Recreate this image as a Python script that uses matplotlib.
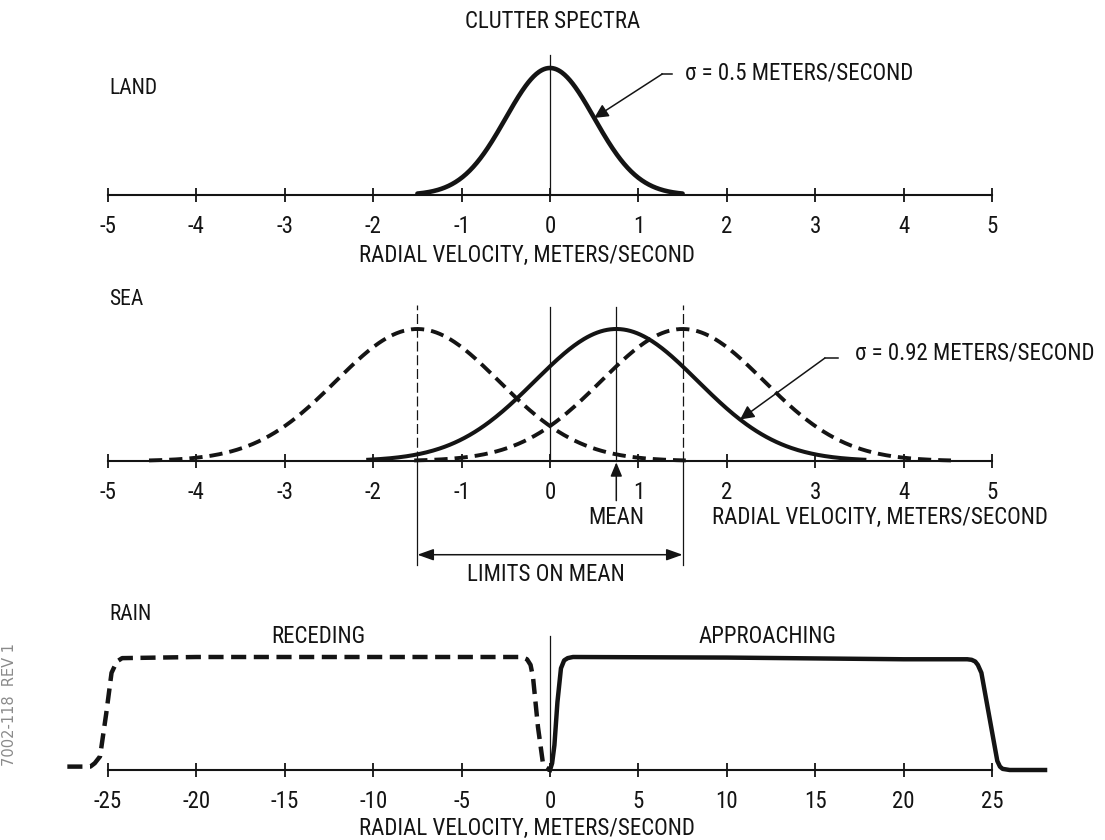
import numpy as np
import matplotlib
matplotlib.use("Agg")
import matplotlib.pyplot as plt
from matplotlib import font_manager

# ---- data -------------------------------------------------------------
LAND_TICKS = [-5, -4, -3, -2, -1, 0, 1, 2, 3, 4, 5]
LAND_TICK_LABELS = ["-5", "-4", "-3", "-2", "-1", "0", "1", "2", "3", "4", "5"]
LAND_MEAN = 0.0
LAND_SIGMA = 0.5

SEA_TICKS = [-5, -4, -3, -2, -1, 0, 1, 2, 3, 4, 5]
SEA_TICK_LABELS = ["-5", "-4", "-3", "-2", "-1", "0", "1", "2", "3", "4", "5"]
SEA_MEAN = 0.75
SEA_SIGMA = 0.92
SEA_LIMITS = [-1.5, 1.5]

RAIN_TICKS = [-25, -20, -15, -10, -5, 0, 5, 10, 15, 20, 25]
RAIN_TICK_LABELS = ["-25", "-20", "-15", "-10", "-5", "0", "5", "10", "15", "20", "25"]
RECEDING_V = [-27.3, -26.0, -25.75, -25.45, -25.1, -24.8, -24.5, -24.2, -20.0,
              -10.0, -1.6, -1.3, -1.1, -0.96, -0.68, -0.4, -0.2, 0.0]
RECEDING_P = [0.03, 0.03, 0.06, 0.12, 0.50, 0.86, 0.96, 0.99, 1.0,
              1.0, 1.0, 0.98, 0.93, 0.82, 0.38, 0.06, 0.02, 0.0]
APPROACHING_V = [0.0, 0.12, 0.25, 0.42, 0.62, 0.8, 1.0, 1.3, 10.0, 20.0,
                 23.6, 23.85, 24.05, 24.2, 24.4, 24.85, 25.3, 25.45, 25.6,
                 26.0, 28.0]
APPROACHING_P = [0.0, 0.06, 0.22, 0.60, 0.90, 0.97, 0.99, 1.0, 0.995, 0.98,
                 0.98, 0.975, 0.96, 0.93, 0.86, 0.47, 0.08, 0.03, 0.01,
                 0.0, 0.0]

# ---- style ------------------------------------------------------------
def pick_font():
    entries = font_manager.fontManager.ttflist
    names = {f.name for f in entries}
    for name in ("Liberation Sans Narrow", "Roboto Condensed",
                 "Open Sans Condensed", "DejaVu Sans Condensed"):
        if name in names:
            return name, "normal", 16.5
    if any(f.name == "DejaVu Sans" and f.stretch in ("condensed", "semi-condensed")
           for f in entries):
        return "DejaVu Sans", "condensed", 16.0
    return "DejaVu Sans", "normal", 14.5


FONT_NAME, FONT_STRETCH, FS = pick_font()
plt.rcParams["font.family"] = [FONT_NAME, "DejaVu Sans"]
plt.rcParams["font.stretch"] = FONT_STRETCH

INK = "#141414"
W, H = 1105, 840
fig = plt.figure(figsize=(W / 100, H / 100), dpi=100)
fig.patch.set_facecolor("white")


def panel(top, bot, x_zero, x_unit, y_zero, y_unit, ticks, labels, bounds):
    ax = fig.add_axes([0, 1 - bot / H, 1, (bot - top) / H])
    ax.set_xlim(-x_zero / x_unit, (W - x_zero) / x_unit)
    ax.set_ylim((y_zero - bot) / y_unit, (y_zero - top) / y_unit)
    ax.patch.set_alpha(0)
    for side in ("top", "right", "left"):
        ax.spines[side].set_visible(False)
    sp = ax.spines["bottom"]
    sp.set_position(("data", 0))
    sp.set_bounds(*bounds)
    sp.set_linewidth(1.5)
    sp.set_color(INK)
    ax.set_yticks([])
    ax.set_xticks(ticks)
    ax.set_xticklabels(labels)
    ax.tick_params(axis="x", direction="inout", length=10, width=1.3,
                   pad=9.5, labelsize=FS, colors=INK)
    return ax


def gauss(x, m, s):
    return np.exp(-((x - m) ** 2) / (2 * s ** 2))


ARROW = dict(arrowstyle="-|>,head_length=0.6,head_width=0.3", color=INK,
             lw=1.1, shrinkA=0, shrinkB=0, mutation_scale=14)

# ---- land -------------------------------------------------------------
ax1 = panel(40, 280, 550, 88.4, 195, 127, LAND_TICKS, LAND_TICK_LABELS, (-5, 5))
x = np.linspace(LAND_MEAN - 3 * LAND_SIGMA, LAND_MEAN + 3 * LAND_SIGMA, 300)
ax1.plot(x, gauss(x, LAND_MEAN, LAND_SIGMA), color=INK, lw=3.3,
         solid_capstyle="round")
ax1.plot([0, 0], [0, 1.10], color=INK, lw=0.9)
ax1.text(-4.99, 0.84, "LAND", fontsize=FS - 1, color=INK, va="center", ha="left")
ax1.text(-0.26, -0.48, "RADIAL VELOCITY, METERS/SECOND", fontsize=FS,
         color=INK, ha="center", va="center")
tip = 0.5
ax1.plot([1.38, 1.27], [0.953, 0.953], color=INK, lw=1.1)
ax1.annotate("", xy=(tip, gauss(tip, LAND_MEAN, LAND_SIGMA)), xytext=(1.27, 0.953),
             arrowprops=ARROW)
ax1.text(1.53, 0.96, "\u03c3 = 0.5 METERS/SECOND", fontsize=FS, color=INK,
         ha="left", va="center")

# ---- sea --------------------------------------------------------------
ax2 = panel(280, 600, 550, 88.4, 461, 132, SEA_TICKS, SEA_TICK_LABELS, (-5, 5))
for lim in SEA_LIMITS:
    xs = np.linspace(lim - 3.3 * SEA_SIGMA, lim + 3.3 * SEA_SIGMA, 300)
    ax2.plot(xs, gauss(xs, lim, SEA_SIGMA), color=INK, lw=2.8,
             dashes=(3.4, 1.8))
    ax2.plot([lim, lim], [0, 1.18], color=INK, lw=0.9, dashes=(8, 3))
    ax2.plot([lim, lim], [0, -0.79], color=INK, lw=0.9)
xs = np.linspace(SEA_MEAN - 3.05 * SEA_SIGMA, SEA_MEAN + 3.05 * SEA_SIGMA, 300)
ax2.plot(xs, gauss(xs, SEA_MEAN, SEA_SIGMA), color=INK, lw=2.9)
ax2.plot([0, 0], [0, 1.17], color=INK, lw=0.9)
ax2.plot([SEA_MEAN, SEA_MEAN], [0, 1.17], color=INK, lw=0.9)
ax2.annotate("", xy=(SEA_MEAN, -0.01), xytext=(SEA_MEAN, -0.30),
             arrowprops=dict(ARROW, arrowstyle="-|>,head_length=0.6,head_width=0.25"))
ax2.text(SEA_MEAN, -0.43, "MEAN", fontsize=FS, color=INK,
         ha="center", va="center")
ax2.annotate("", xy=(SEA_LIMITS[0], -0.71), xytext=(SEA_LIMITS[1], -0.71),
             arrowprops=dict(ARROW, arrowstyle="<|-|>,head_length=0.7,head_width=0.25"))
ax2.text(-0.05, -0.86, "LIMITS ON MEAN", fontsize=FS, color=INK,
         ha="center", va="center")
ax2.text(1.83, -0.43, "RADIAL VELOCITY, METERS/SECOND", fontsize=FS,
         color=INK, ha="left", va="center")
ax2.text(-4.99, 1.22, "SEA", fontsize=FS - 1, color=INK, va="center", ha="left")
tip = 2.15
ax2.plot([3.26, 3.11], [0.78, 0.78], color=INK, lw=1.1)
ax2.annotate("", xy=(tip, gauss(tip, SEA_MEAN, SEA_SIGMA)), xytext=(3.11, 0.78),
             arrowprops=ARROW)
ax2.text(3.45, 0.82, "\u03c3 = 0.92 METERS/SECOND", fontsize=FS, color=INK,
         ha="left", va="center")

# ---- rain -------------------------------------------------------------
ax3 = panel(600, 840, 550, 17.68, 770, 113, RAIN_TICKS, RAIN_TICK_LABELS, (-25, 25))
ax3.plot(RECEDING_V, RECEDING_P, color=INK, lw=3.2, dashes=(3.4, 1.7),
         clip_on=False)
ax3.plot(APPROACHING_V, APPROACHING_P, color=INK, lw=3.2, clip_on=False,
         solid_joinstyle="round")
ax3.plot([0, 0], [0, 1.19], color=INK, lw=0.9)
ax3.text(-24.95, 1.38, "RAIN", fontsize=FS - 1, color=INK, va="center", ha="left")
ax3.text(-13.1, 1.18, "RECEDING", fontsize=FS, color=INK,
         va="center", ha="center")
ax3.text(12.3, 1.18, "APPROACHING", fontsize=FS, color=INK,
         va="center", ha="center")
ax3.text(-1.3, -0.52, "RADIAL VELOCITY, METERS/SECOND", fontsize=FS,
         color=INK, ha="center", va="center")

# ---- figure-level text ------------------------------------------------
fig.text(553 / W, 1 - 22 / H, "CLUTTER SPECTRA", fontsize=FS, color=INK,
         ha="center", va="center")
fig.text(10 / W, 1 - 705 / H, "7002-118  REV 1", fontsize=10.5, color="#8a8a8a",
         rotation=90, ha="center", va="center", family="DejaVu Sans",
         stretch="normal")

fig.savefig("out.png", dpi=100, facecolor="white")
